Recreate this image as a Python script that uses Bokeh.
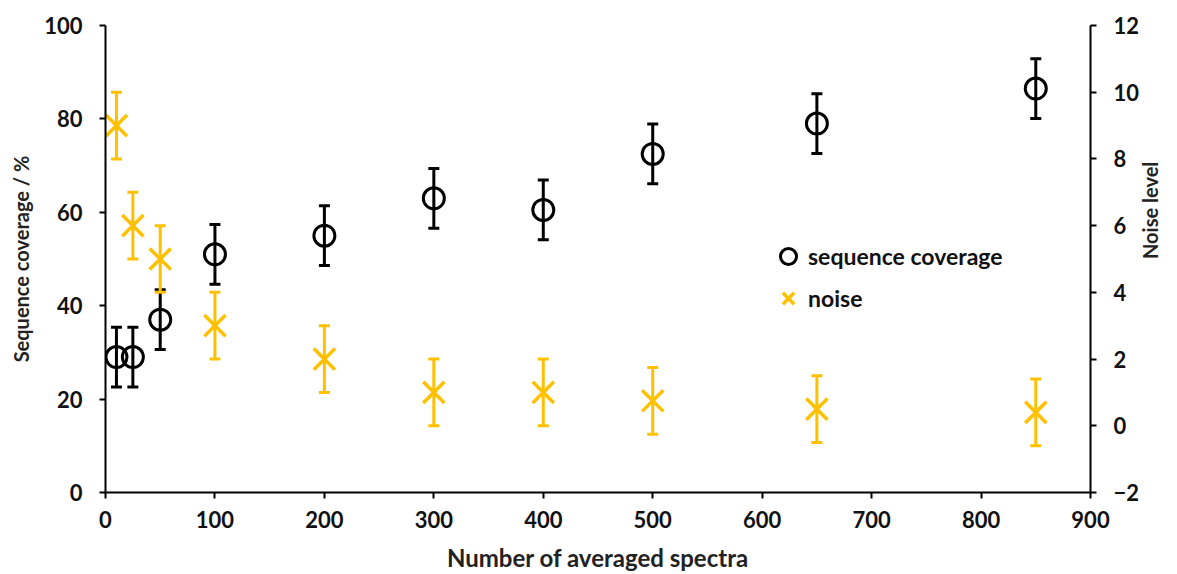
import math
from bokeh.plotting import figure
from bokeh.models import (ColumnDataSource, Range1d, LinearAxis, Whisker, TeeHead,
                          Legend, LegendItem, FixedTicker)
from bokeh.embed import file_html
from bokeh.resources import INLINE

# averaged spectra counts
spectra = [10, 25, 50, 100, 200, 300, 400, 500, 650, 850]
# sequence coverage (%) and its error
coverage = [29, 29, 37, 51, 55, 63, 60.5, 72.5, 79, 86.5]
coverage_err = [6.4, 6.4, 6.4, 6.4, 6.4, 6.4, 6.4, 6.4, 6.4, 6.4]
# noise level and its error
noise = [9, 6, 5, 3, 2, 1, 1, 0.75, 0.5, 0.4]
noise_err = [1, 1, 1, 1, 1, 1, 1, 1, 1, 1]

FONT = "Lato"
BLACK = "#000000"
GOLD = "#FFC000"
TEXT = "#111111"

cov_src = ColumnDataSource(dict(
    x=spectra, y=coverage,
    lo=[c - e for c, e in zip(coverage, coverage_err)],
    hi=[c + e for c, e in zip(coverage, coverage_err)],
))
noise_src = ColumnDataSource(dict(
    x=spectra, y=noise,
    lo=[n - e for n, e in zip(noise, noise_err)],
    hi=[n + e for n, e in zip(noise, noise_err)],
))

p = figure(width=1177, height=574, output_backend="svg", toolbar_location=None,
           x_range=Range1d(0, 900), y_range=Range1d(0, 100),
           min_border_left=105, min_border_right=87, min_border_top=25, min_border_bottom=82)
p.outline_line_color = None
p.xgrid.visible = False
p.ygrid.visible = False
p.extra_y_ranges = {"noise": Range1d(-2, 12)}


def style_axis(ax):
    ax.axis_line_color = BLACK
    ax.axis_line_width = 2
    ax.major_tick_line_color = BLACK
    ax.major_tick_line_width = 2
    ax.major_tick_out = 6
    ax.major_tick_in = 0
    ax.minor_tick_line_color = None
    ax.major_label_text_font = FONT
    ax.major_label_text_font_style = "bold"
    ax.major_label_text_font_size = "22px"
    ax.major_label_text_color = TEXT
    ax.axis_label_text_font = FONT
    ax.axis_label_text_font_style = "bold"
    ax.axis_label_text_color = "#222222"


xa = p.xaxis[0]
style_axis(xa)
xa.ticker = FixedTicker(ticks=list(range(0, 901, 100)))
xa.axis_label = "Number of averaged spectra"
xa.axis_label_text_font_size = "24px"
xa.major_label_standoff = 12
xa.axis_label_standoff = 12

ya = p.yaxis[0]
style_axis(ya)
ya.ticker = FixedTicker(ticks=list(range(0, 101, 20)))
ya.axis_label = "Sequence coverage / %"
ya.axis_label_text_font_size = "20px"
ya.major_label_standoff = 17
ya.axis_label_standoff = 8

ra = LinearAxis(y_range_name="noise", axis_label="Noise level")
style_axis(ra)
ra.ticker = FixedTicker(ticks=list(range(-2, 13, 2)))
ra.major_label_standoff = 17
ra.axis_label_standoff = 8
ra.axis_label_text_font_size = "20px"
# title reads bottom to top, like the left one
if hasattr(ra, "axis_label_orientation"):
    ra.axis_label_orientation = math.pi / 2
p.add_layout(ra, "right")

# error bars
cov_w = Whisker(source=cov_src, base="x", lower="lo", upper="hi",
                line_color=BLACK, line_width=3,
                upper_head=TeeHead(size=11, line_color=BLACK, line_width=3),
                lower_head=TeeHead(size=11, line_color=BLACK, line_width=3))
p.add_layout(cov_w)
noise_w = Whisker(source=noise_src, base="x", lower="lo", upper="hi", y_range_name="noise",
                  line_color=GOLD, line_width=3,
                  upper_head=TeeHead(size=11, line_color=GOLD, line_width=3),
                  lower_head=TeeHead(size=11, line_color=GOLD, line_width=3))
p.add_layout(noise_w)

cov_r = p.scatter("x", "y", source=cov_src, marker="circle", size=21,
                  fill_color=None, line_color=BLACK, line_width=3)
noise_r = p.scatter("x", "y", source=noise_src, marker="x", size=30,
                    line_color=GOLD, line_width=3.5, y_range_name="noise")

legend = Legend(items=[LegendItem(label="sequence coverage", renderers=[cov_r]),
                       LegendItem(label="noise", renderers=[noise_r])],
                location=(663, 174), border_line_color=None,
                background_fill_alpha=0, label_text_font=FONT,
                label_text_font_style="bold", label_text_font_size="23px",
                label_text_color=TEXT, glyph_width=40, glyph_height=40,
                spacing=2, label_standoff=-5, padding=0, margin=0)
p.add_layout(legend)

open("out.html", "w").write(file_html(p, INLINE))
